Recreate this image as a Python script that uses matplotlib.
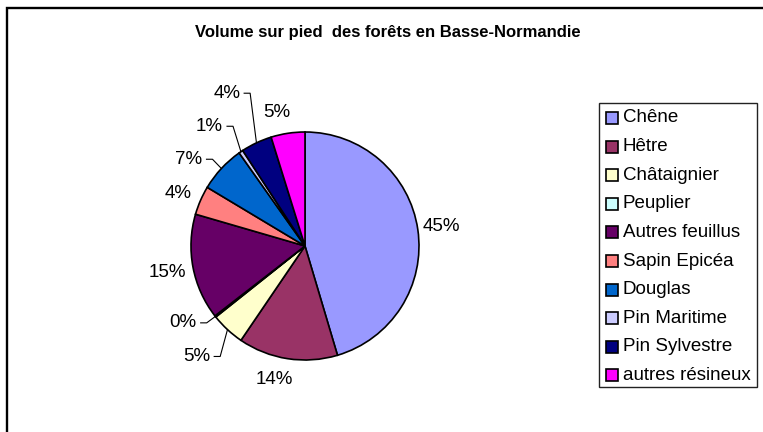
import numpy as np
import matplotlib
matplotlib.use("Agg")
import matplotlib.pyplot as plt
from matplotlib.patches import Rectangle

plt.rcParams['font.family'] = ['Liberation Sans', 'DejaVu Sans']

# ---- data ----
categories = ["Chêne", "Hêtre", "Châtaignier", "Peuplier", "Autres feuillus",
              "Sapin Epicéa", "Douglas", "Pin Maritime", "Pin Sylvestre", "autres résineux"]
values = [45.4, 14.1, 4.8, 0.2, 15.0, 4.1, 6.6, 0.6, 4.4, 4.8]
colors = ["#9999FF", "#993366", "#FFFFCC", "#CCFFFF", "#660066",
          "#FF8080", "#0066CC", "#CCCCFF", "#000080", "#FF00FF"]
title = "Volume sur pied  des forêts en Basse-Normandie"

# ---- label layout (radius factor, angle shift in degrees, leader line?) ----
label_r = [1.21, 1.20, 1.277, 1.165, 1.23, 1.21, 1.178, 1.273, 1.456, 1.20]
label_dt = [0.0, 4.0, -2.2, 2.8, 0.0, -1.0, -2.6, -0.2, 2.2, -3.2]
label_leader = [False, False, True, True, False, False, True, True, True, False]

W, H = 763, 432
fig = plt.figure(figsize=(W / 100, H / 100), dpi=100)
fig.patch.set_facecolor("white")

def fx(x):
    return x / W

def fy(y):
    return 1 - y / H

# outer chart frame (extends past right/bottom edges)
fig.patches.append(Rectangle((fx(7), fy(440)), fx(800), 432 / H, transform=fig.transFigure,
                             fill=False, edgecolor="black", linewidth=1.7))

R = 114.0
cx, cy = 305, 246
ax = fig.add_axes([fx(cx - 200), (H - cy - 170) / H, 400 / W, 340 / H])
wedges, _ = ax.pie(values, colors=colors, startangle=90, counterclock=False,
                   wedgeprops=dict(edgecolor="black", linewidth=1.2))
ax.set_aspect("auto")
ax.set_xlim(-200 / R, 200 / R)
ax.set_ylim(-170 / R, 170 / R)
ax.axis("off")

total = sum(values)
cum = np.cumsum([0] + values)
for i, v in enumerate(values):
    mid = (cum[i] + v / 2) / total * 360.0
    th = np.radians(mid + label_dt[i])
    lx, ly = label_r[i] * np.sin(th), label_r[i] * np.cos(th)
    txt = f"{round(v / total * 100)}%"
    if label_leader[i]:
        ax.text(lx, ly, txt, ha="right", va="center", fontsize=13.5)
        ex, ey = np.sin(np.radians(mid)), np.cos(np.radians(mid))
        x0 = lx + 4 / R
        x1 = x0 + 6 / R
        ax.plot([x0, x1, ex], [ly, ly, ey], color="black", linewidth=0.8)
    else:
        ax.text(lx, ly, txt, ha="center", va="center", fontsize=13.5)

fig.text(fx(388), fy(32.5), title, ha="center", va="center", fontsize=12, fontweight="bold")

# ---- legend ----
lx0, ly0, lx1, ly1 = 599, 103, 757, 387
fig.patches.append(Rectangle((fx(lx0), fy(ly1)), (lx1 - lx0) / W, (ly1 - ly0) / H,
                             transform=fig.transFigure, fill=False, edgecolor="#222222",
                             linewidth=1.0))
row0, pitch = 118, 28.6
for i, (c, col) in enumerate(zip(categories, colors)):
    yc = row0 + i * pitch
    fig.patches.append(Rectangle((fx(606), fy(yc + 6)), 12 / W, 12 / H,
                                 transform=fig.transFigure, facecolor=col,
                                 edgecolor="black", linewidth=1.2))
    fig.text(fx(623), fy(yc), c, ha="left", va="center", fontsize=13.5)

fig.savefig("out.png", dpi=100)
